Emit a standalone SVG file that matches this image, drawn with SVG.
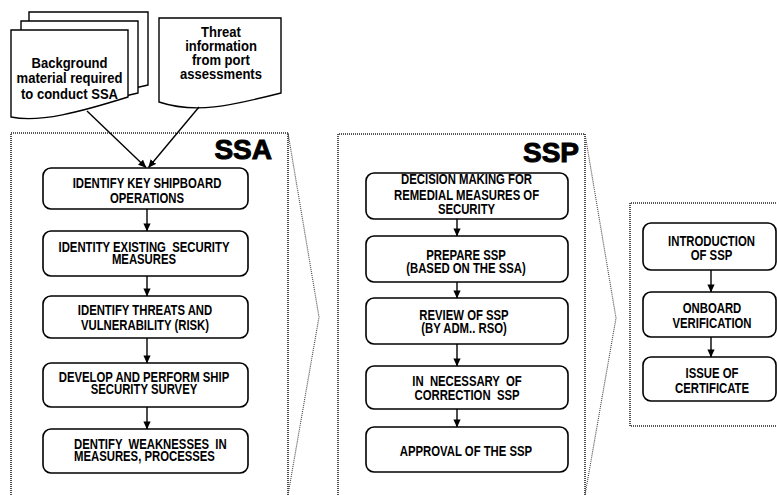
<svg xmlns="http://www.w3.org/2000/svg" width="777" height="495" viewBox="0 0 777 495">
<defs>
<marker id="ah" viewBox="0 0 10 10" refX="9.5" refY="5" markerWidth="8" markerHeight="8" markerUnits="userSpaceOnUse" orient="auto">
<path d="M0,0.5 L10,5 L0,9.5 Z" fill="#000"/>
</marker>
</defs>
<style>
.box{fill:#fff;stroke:#000;stroke-width:1.6}
.doc{fill:#fff;stroke:#000;stroke-width:1.4}
.t{font-family:"Liberation Sans",Arial,sans-serif;font-weight:bold;font-size:14px;fill:#000}
.dt{font-family:"Liberation Sans",Arial,sans-serif;font-weight:bold;font-size:15px;fill:#000}
.big{font-family:"Liberation Sans",Arial,sans-serif;font-weight:bold;font-size:28px;fill:#000;stroke:#000;stroke-width:1}
.panel{fill:none;stroke:#222;stroke-width:1.6;stroke-dasharray:1 1}
.chev{fill:none;stroke:#444;stroke-width:1.1;stroke-dasharray:1 1}
.c{fill:none;stroke:#000;stroke-width:1.4}
</style>
<rect width="777" height="495" fill="#fff"/>

<g id="panels">
<path class="panel" d="M11,495 V133 H288 V495"/>
<path class="chev" d="M288,133 L319,317 L288,495"/>
<path class="panel" d="M338,495 V134 H585 V495"/>
<path class="chev" d="M585,134 L616,318 L585,495"/>
<path class="panel" d="M780,203 H630 V426 H780"/>
<text class="big" x="272" y="159" text-anchor="end">SSA</text>
<text class="big" x="579" y="162" text-anchor="end">SSP</text>
</g>

<g id="doc-background">
<path class="doc" d="M29,12 H148 V85 C120,92 60,100 29,102 Z"/>
<path class="doc" d="M21,21 H138 V93 C110,100 60,108 21,110 Z"/>
<path class="doc" d="M11,30 H128 V97 C80,112 40,123 11,117 Z"/>
<text class="dt" transform="translate(69.5 0) scale(0.87 1)" text-anchor="middle"><tspan x="0" y="68">Background</tspan><tspan x="0" y="83.5">material required</tspan><tspan x="0" y="99">to conduct SSA</tspan></text>
</g>

<g id="doc-threat">
<path class="doc" d="M159,18 H281 V93 C230,106 195,114 159,102 Z"/>
<text class="dt" transform="translate(221 0) scale(0.87 1)" text-anchor="middle"><tspan x="0" y="37">Threat</tspan><tspan x="0" y="51">information</tspan><tspan x="0" y="65">from port</tspan><tspan x="0" y="79">assessments</tspan></text>
</g>

<g id="ssa1">
<rect class="box" x="43" y="168" width="205" height="41" rx="8"/>
<text class="t" transform="translate(147 0) scale(0.81 1)" text-anchor="middle"><tspan x="0" y="188">IDENTIFY KEY SHIPBOARD</tspan><tspan x="0" y="203">OPERATIONS</tspan></text>
</g>
<g id="ssa2">
<rect class="box" x="43" y="231" width="205" height="45" rx="8"/>
<text class="t" xml:space="preserve" transform="translate(144 0) scale(0.81 1)" text-anchor="middle"><tspan x="0" y="252">IDENTITY EXISTING  SECURITY</tspan><tspan x="0" y="264.5">MEASURES</tspan></text>
</g>
<g id="ssa3">
<rect class="box" x="43" y="296" width="205" height="42" rx="8"/>
<text class="t" transform="translate(145 0) scale(0.81 1)" text-anchor="middle"><tspan x="0" y="315">IDENTIFY THREATS AND</tspan><tspan x="0" y="330.5">VULNERABILITY (RISK)</tspan></text>
</g>
<g id="ssa4">
<rect class="box" x="43" y="363" width="205" height="44" rx="8"/>
<text class="t" transform="translate(144 0) scale(0.81 1)" text-anchor="middle"><tspan x="0" y="382">DEVELOP AND PERFORM SHIP</tspan><tspan x="0" y="394">SECURITY SURVEY</tspan></text>
</g>
<g id="ssa5">
<rect class="box" x="43" y="429" width="205" height="44" rx="8"/>
<text class="t" xml:space="preserve" transform="translate(74 0) scale(0.81 1)"><tspan x="0" y="449">DENTIFY  WEAKNESSES  IN</tspan><tspan x="0" y="461.5">MEASURES, PROCESSES</tspan></text>
</g>

<g id="ssp1">
<rect class="box" x="366" y="173" width="202" height="46" rx="8"/>
<text class="t" transform="translate(466.5 0) scale(0.81 1)" text-anchor="middle"><tspan x="0" y="184.5">DECISION MAKING FOR</tspan><tspan x="0" y="200">REMEDIAL MEASURES OF</tspan><tspan x="0" y="214">SECURITY</tspan></text>
</g>
<g id="ssp2">
<rect class="box" x="366" y="236" width="202" height="46" rx="8"/>
<text class="t" transform="translate(466 0) scale(0.81 1)" text-anchor="middle"><tspan x="0" y="260">PREPARE SSP</tspan><tspan x="0" y="273">(BASED ON THE SSA)</tspan></text>
</g>
<g id="ssp3">
<rect class="box" x="366" y="298" width="202" height="46" rx="8"/>
<text class="t" transform="translate(464 0) scale(0.81 1)" text-anchor="middle"><tspan x="0" y="320">REVIEW OF SSP</tspan><tspan x="0" y="333">(BY ADM.. RSO)</tspan></text>
</g>
<g id="ssp4">
<rect class="box" x="366" y="366" width="202" height="43" rx="8"/>
<text class="t" xml:space="preserve" transform="translate(467 0) scale(0.81 1)" text-anchor="middle"><tspan x="0" y="386.5">IN  NECESSARY  OF</tspan><tspan x="0" y="400">CORRECTION  SSP</tspan></text>
</g>
<g id="ssp5">
<rect class="box" x="366" y="427" width="202" height="45" rx="8"/>
<text class="t" transform="translate(466 0) scale(0.81 1)" text-anchor="middle"><tspan x="0" y="456.5">APPROVAL OF THE SSP</tspan></text>
</g>

<g id="r1">
<rect class="box" x="643" y="223" width="133" height="47" rx="8"/>
<text class="t" transform="translate(711.5 0) scale(0.81 1)" text-anchor="middle"><tspan x="0" y="246">INTRODUCTION</tspan><tspan x="0" y="260.5">OF SSP</tspan></text>
</g>
<g id="r2">
<rect class="box" x="643" y="292" width="133" height="45" rx="8"/>
<text class="t" transform="translate(712 0) scale(0.81 1)" text-anchor="middle"><tspan x="0" y="313">ONBOARD</tspan><tspan x="0" y="328">VERIFICATION</tspan></text>
</g>
<g id="r3">
<rect class="box" x="643" y="357" width="133" height="44" rx="8"/>
<text class="t" transform="translate(712 0) scale(0.81 1)" text-anchor="middle"><tspan x="0" y="378">ISSUE OF</tspan><tspan x="0" y="393">CERTIFICATE</tspan></text>
</g>

<g id="connectors">
<line class="c" x1="87" y1="111" x2="146" y2="167.5" marker-end="url(#ah)"/>
<line class="c" x1="199" y1="107" x2="148.5" y2="167.5" marker-end="url(#ah)"/>
<line class="c" x1="147" y1="209" x2="147" y2="231" marker-end="url(#ah)"/>
<line class="c" x1="147" y1="276" x2="147" y2="296" marker-end="url(#ah)"/>
<line class="c" x1="147" y1="338" x2="147" y2="363" marker-end="url(#ah)"/>
<line class="c" x1="147" y1="407" x2="147" y2="429" marker-end="url(#ah)"/>
<line class="c" x1="457" y1="219" x2="457" y2="236" marker-end="url(#ah)"/>
<line class="c" x1="457" y1="282" x2="457" y2="298" marker-end="url(#ah)"/>
<line class="c" x1="457" y1="344" x2="457" y2="366" marker-end="url(#ah)"/>
<line class="c" x1="457" y1="409" x2="457" y2="427" marker-end="url(#ah)"/>
<line class="c" x1="711" y1="270" x2="711" y2="292" marker-end="url(#ah)"/>
<line class="c" x1="711" y1="337" x2="711" y2="357" marker-end="url(#ah)"/>
</g>
</svg>
